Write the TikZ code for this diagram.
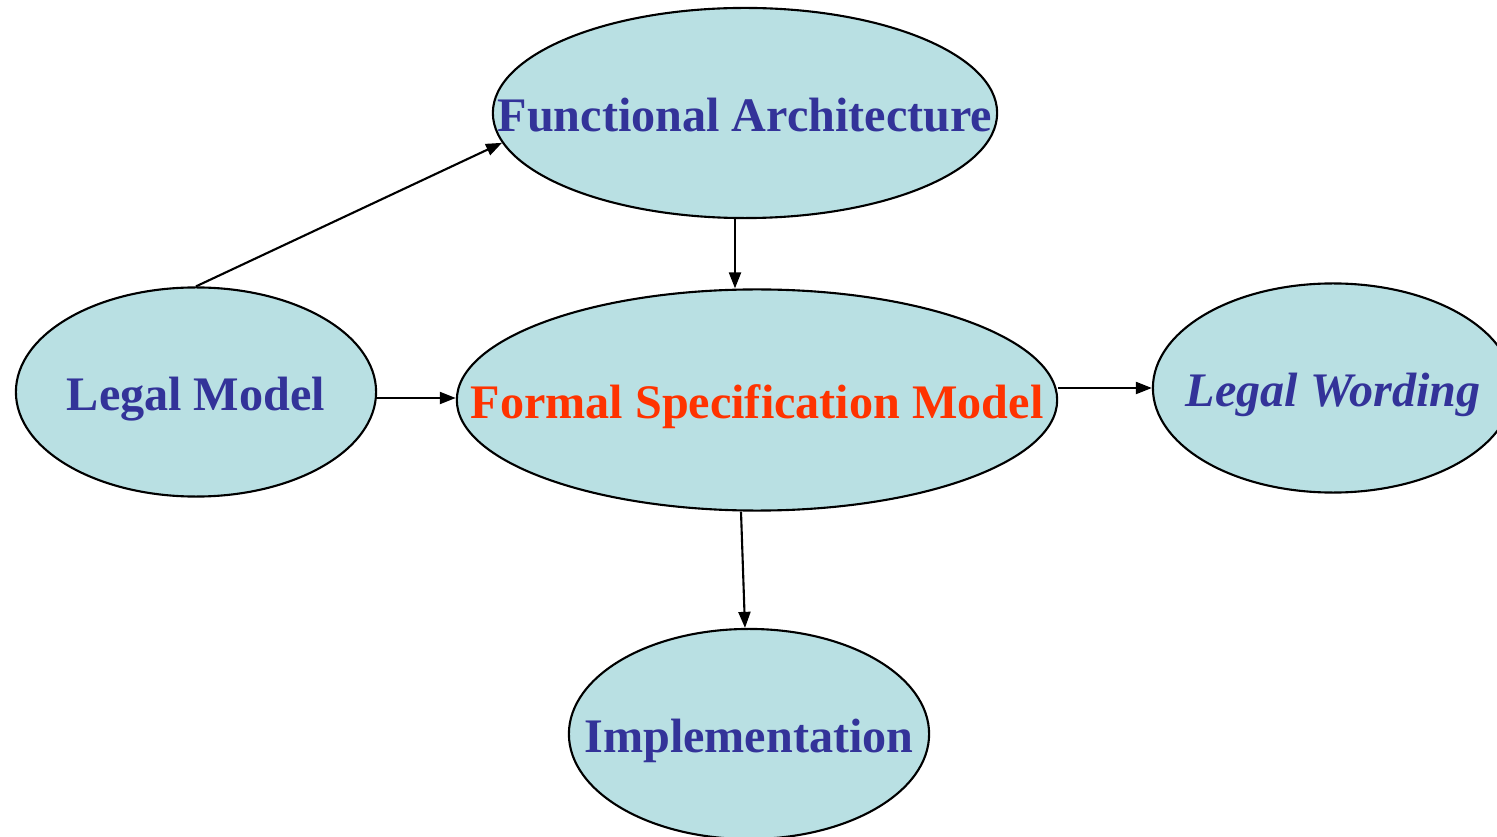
\documentclass[tikz,border=0pt]{standalone}
\usepackage{fontspec}
\setmainfont{Liberation Serif}
\usetikzlibrary{shapes.geometric,arrows.meta}

\definecolor{ellfill}{RGB}{185,224,227}
\definecolor{txtblue}{RGB}{51,51,153}
\definecolor{txtred}{RGB}{255,51,0}

\begin{document}
\begin{tikzpicture}[x=0.01cm, y=-0.01cm, >={Triangle[length=1.6mm,width=1.2mm]},
        main/.style = {draw, ellipse, fill=ellfill, line width=0.6pt, inner sep=0pt,
            text height=10.6pt, text depth=0pt, text=txtblue,
            font=\fontsize{13.7}{16}\selectfont\bfseries},
        arr/.style = {->, line width=0.6pt}]
        \useasboundingbox (0,0) rectangle (1497,837);

        \node[main,minimum width=6cm,minimum height=2.21cm] (fsm) at (757,400) {\makebox[0pt]{\color{txtred}Formal Specification Model}};
        \node[main,minimum width=5.04cm,minimum height=2.1cm] (fa) at (745,113) {\makebox[0pt]{Functional Architecture}};
        \node[main,minimum width=3.6cm,minimum height=2.09cm] (lm) at (196,392) {\makebox[0pt]{Legal Model}};
        \node[main,minimum width=3.6cm,minimum height=2.09cm] (lw) at (1333,388) {\makebox[0pt]{\itshape Legal Wording}};
        \node[main,minimum width=3.6cm,minimum height=2.1cm] (impl) at (749,734) {\makebox[0pt]{Implementation}};

        \draw[arr] (lm.north) -- (fa.187);
        \draw[arr] ([xshift=-1mm]fa.south) -- ([xshift=-1mm]fa.south |- fsm.north);
        \draw[arr] ([yshift=-0.6mm]lm.east) -- ([yshift=-0.6mm]lm.east -| fsm.west);
        \draw[arr] (fsm.east |- lw.west) -- (lw.west);
        \draw[arr] ([xshift=-1.6mm]fsm.south) -- ([xshift=-0.4mm]impl.north);

    \end{tikzpicture}
\end{document}
